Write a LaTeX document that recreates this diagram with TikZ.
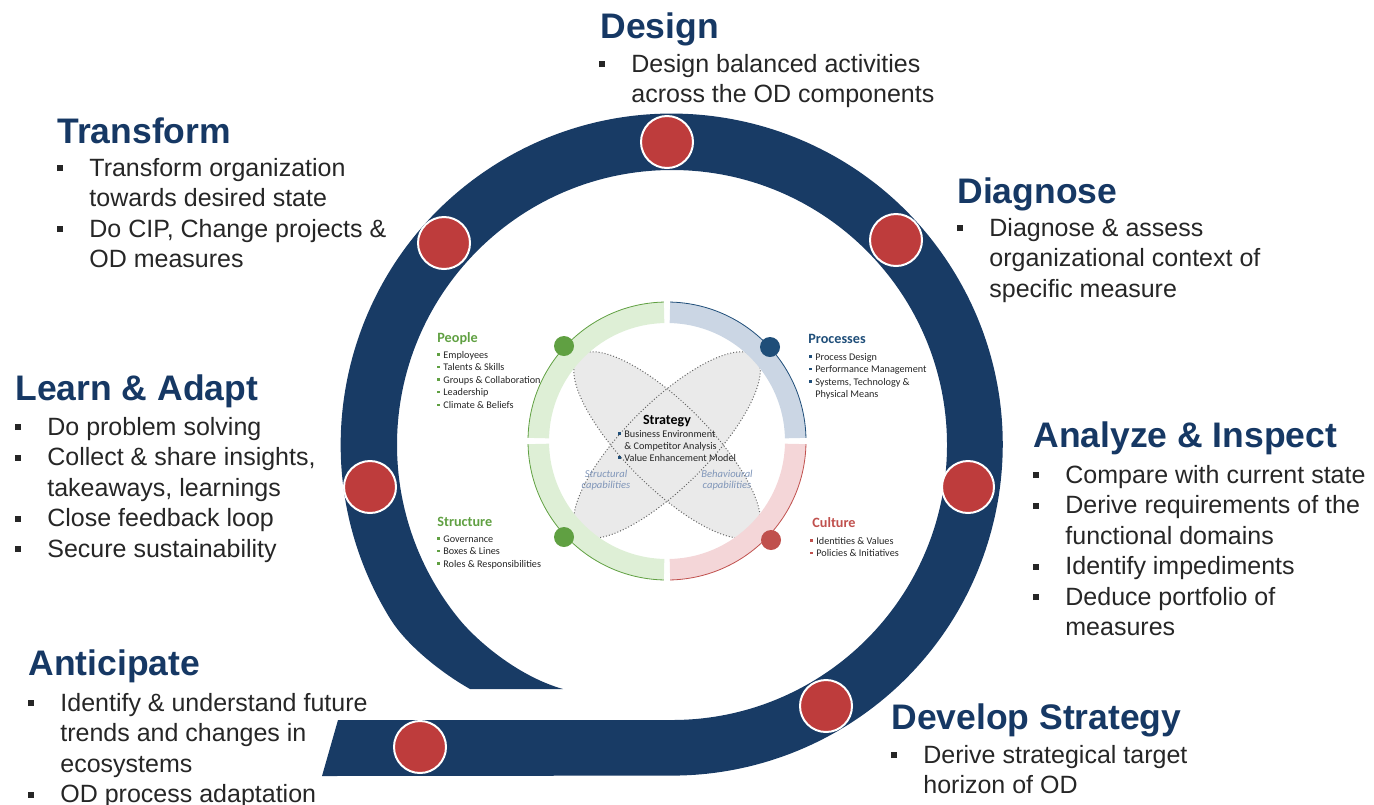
\documentclass[tikz,border=0pt]{standalone}
\usepackage{fontspec}
\setmainfont{Liberation Sans}
\newfontfamily\calib{Carlito}
\definecolor{ringblue}{RGB}{24,59,101}
\definecolor{dotred}{RGB}{190,60,60}
\definecolor{headblue}{RGB}{22,56,100}
\definecolor{bodygray}{RGB}{38,38,38}
\definecolor{pgreen}{RGB}{96,160,66}
\definecolor{pgreenlt}{RGB}{222,239,214}
\definecolor{pblue}{RGB}{31,78,121}
\definecolor{pbluelt}{RGB}{203,214,228}
\definecolor{pred}{RGB}{192,80,77}
\definecolor{predlt}{RGB}{244,214,216}
\definecolor{lensgray}{RGB}{234,234,234}
\definecolor{capblue}{RGB}{128,150,185}

\newcommand\sqb{\makebox[16pt][l]{\raisebox{2.5pt}{\rule{3pt}{3pt}}}}
\newcommand\tb[1]{\makebox[3pt][l]{\textcolor{#1}{\raisebox{1.2pt}{\rule{1.2pt}{1.2pt}}}}}

\begin{document}
\begin{tikzpicture}[x=0.5pt, y=-0.5pt,
  head/.style={anchor=base west, inner sep=0pt, text=headblue, font=\fontsize{17.75}{21}\selectfont\bfseries},
  body/.style={anchor=base west, inner sep=0pt, text=bodygray, font=\fontsize{12.5}{15.25}\selectfont},
  stage/.style={circle, fill=dotred, draw=white, line width=1pt, minimum size=26pt, inner sep=0pt},
  subhead/.style={anchor=base west, inner sep=0pt, font=\calib\bfseries\fontsize{7.1}{8}\selectfont},
  sub/.style={anchor=base west, inner sep=0pt, text=bodygray, font=\calib\fontsize{5.1}{6.3}\selectfont},
  smalldot/.style={circle, minimum size=10pt, inner sep=0pt},
  captext/.style={anchor=base, inner sep=0pt, text=capblue, font=\calib\itshape\fontsize{5.3}{5.5}\selectfont}]
\useasboundingbox (0,0) rectangle (1374,804);

% spiral ring
\fill[ringblue] (338,720) -- (672,720)
  arc[start angle=90, end angle=-219.5, radius=275]
  .. controls (479,643) and (520,677) .. (563,689)
  -- (470,689)
  .. controls (440,672) and (407,645) .. (391,620)
  arc[start angle=-212, end angle=90, radius=331]
  -- (322,776) -- cycle;

% inner model
\begin{scope}[shift={(667,445)}]
\fill[lensgray, rotate=45] (0,0) ellipse[x radius=125, y radius=42];
\fill[lensgray, rotate=-45] (0,0) ellipse[x radius=125, y radius=42];
\draw[densely dotted, black!60, line width=0.5pt, rotate=45] (0,0) ellipse[x radius=125, y radius=42];
\draw[densely dotted, black!60, line width=0.5pt, rotate=-45] (0,0) ellipse[x radius=125, y radius=42];
\end{scope}
\begin{scope}[shift={(667,441)}]
\foreach \a/\fc/\lc in {-180/pgreenlt/pgreen, -90/pbluelt/pblue, 0/predlt/pred, 90/pgreenlt/pgreen} {
  \fill[\fc] (\a+1.3:139) arc[start angle=\a+1.3, end angle=\a+88.7, radius=139]
    -- (\a+88.7:118) arc[start angle=\a+88.7, end angle=\a+1.3, radius=118] -- cycle;
  \draw[\lc, line width=0.4pt] (\a+1.3:139) arc[start angle=\a+1.3, end angle=\a+88.7, radius=139];
}
\end{scope}

\node[smalldot, fill=pgreen] (pdot) at (564,346) {};
\node[smalldot, fill=pblue] (prdot) at (770,347) {};
\node[smalldot, fill=pgreen] (sdot) at (564,537) {};
\node[smalldot, fill=pred] (cdot) at (771,540) {};

\node[anchor=base, inner sep=0pt, font=\calib\bfseries\fontsize{7}{8}\selectfont] (strat) at (667,424) {Strategy};
\node[anchor=base west, inner sep=0pt, text=bodygray, font=\calib\fontsize{5.1}{6}\selectfont] (strattxt) at (618,437)
  {\begin{tabular}[t]{@{}l@{}}\tb{pblue}Business Environment\\ \hspace*{3pt}\& Competitor Analysis\\ \tb{pblue}Value Enhancement Model\end{tabular}};
\node[captext] (struct) at (606,477) {\begin{tabular}[t]{@{}c@{}}Structural\\ capabilities\end{tabular}};
\node[captext] (behav) at (727,477) {\begin{tabular}[t]{@{}c@{}}Behavioural\\ capabilities\end{tabular}};

\node[subhead, text=pgreen] (people) at (437,342) {People};
\node[sub] (peopletxt) at (437,358) {\begin{tabular}[t]{@{}l@{}}\tb{pgreen}Employees\\ \tb{pgreen}Talents \& Skills\\ \tb{pgreen}Groups \& Collaboration\\ \tb{pgreen}Leadership\\ \tb{pgreen}Climate \& Beliefs\end{tabular}};
\node[subhead, text=pblue] (proc) at (808,343) {Processes};
\node[sub] (proctxt) at (809,360) {\begin{tabular}[t]{@{}l@{}}\tb{pblue}Process Design\\ \tb{pblue}Performance Management\\ \tb{pblue}Systems, Technology \&\\ \hspace*{3pt}Physical Means\end{tabular}};
\node[subhead, text=pgreen] (struc) at (437,526) {Structure};
\node[sub] (structxt) at (437,542) {\begin{tabular}[t]{@{}l@{}}\tb{pgreen}Governance\\ \tb{pgreen}Boxes \& Lines\\ \tb{pgreen}Roles \& Responsibilities\end{tabular}};
\node[subhead, text=pred] (cult) at (812,527) {Culture};
\node[sub] (culttxt) at (810,544) {\begin{tabular}[t]{@{}l@{}}\tb{pred}Identities \& Values\\ \tb{pred}Policies \& Initiatives\end{tabular}};

% stages on the ring
\node[stage] (design) at (667,142) {};
\node[stage] (diagnose) at (896,240) {};
\node[stage] (analyze) at (968,487) {};
\node[stage] (develop) at (826,706) {};
\node[stage] (anticipate) at (420,747) {};
\node[stage] (learn) at (370,487) {};
\node[stage] (transform) at (444,243) {};

\node[head] (designhd) at (600,38) {Design};
\node[body] (designtxt) at (599,72) {\begin{tabular}[t]{@{}l@{}l@{}}\sqb & Design balanced activities\\ & across the OD components\end{tabular}};

\node[head] (transformhd) at (57,143) {Transform};
\node[body] (transformtxt) at (57,176) {\begin{tabular}[t]{@{}l@{}l@{}}\sqb & Transform organization\\ & towards desired state\\ \sqb & Do CIP, Change projects \&\\ & OD measures\end{tabular}};

\node[head] (diagnosehd) at (957,203) {Diagnose};
\node[body] (diagnosetxt) at (957,236) {\begin{tabular}[t]{@{}l@{}l@{}}\sqb & Diagnose \& assess\\ & organizational context of\\ & specific measure\end{tabular}};

\node[head] (learnhd) at (15,400) {Learn \& Adapt};
\node[body] (learntxt) at (15,435) {\begin{tabular}[t]{@{}l@{}l@{}}\sqb & Do problem solving\\ \sqb & Collect \& share insights,\\ & takeaways, learnings\\ \sqb & Close feedback loop\\ \sqb & Secure sustainability\end{tabular}};

\node[head] (analyzehd) at (1033,447) {Analyze \& Inspect};
\node[body] (analyzetxt) at (1033,483) {\begin{tabular}[t]{@{}l@{}l@{}}\sqb & Compare with current state\\ \sqb & Derive requirements of the\\ & functional domains\\ \sqb & Identify impediments\\ \sqb & Deduce portfolio of\\ & measures\end{tabular}};

\node[head] (anticipatehd) at (28,675) {Anticipate};
\node[body] (anticipatetxt) at (28,711) {\begin{tabular}[t]{@{}l@{}l@{}}\sqb & Identify \& understand future\\ & trends and changes in\\ & ecosystems\\ \sqb & OD process adaptation\end{tabular}};

\node[head] (develophd) at (891,729) {Develop Strategy};
\node[body] (developtxt) at (891,763) {\begin{tabular}[t]{@{}l@{}l@{}}\sqb & Derive strategical target\\ & horizon of OD\end{tabular}};
\end{tikzpicture}
\end{document}
